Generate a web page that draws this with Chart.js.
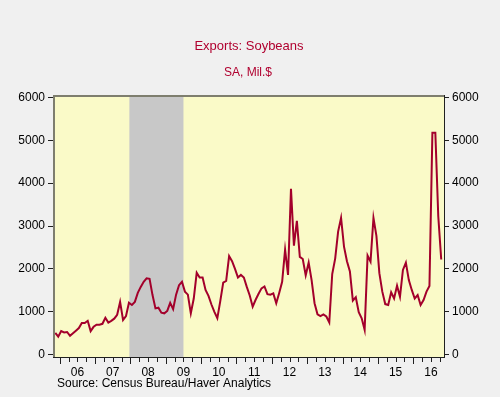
<!DOCTYPE html>
<html>
<head>
<meta charset="utf-8">
<title>Exports: Soybeans</title>
<script src="https://cdn.jsdelivr.net/npm/chart.js@4.4.1/dist/chart.umd.min.js"></script>
<style>
  html, body { margin: 0; padding: 0; background: #f0f0f0; }
  #wrap { width: 500px; height: 397px; }
</style>
</head>
<body>
<div id="wrap"><canvas id="myChart" width="500" height="397"></canvas></div>
<script>
// monthly series, first point = Nov 2005, last point = Oct 2016
const firstYear = 2005;
const firstMonth = 11;

const soybeanExports = [
  510, 420,
  550, 520, 530, 440, 500, 560, 620, 740, 740, 790, 550, 650,
  700, 700, 720, 860, 750, 790, 840, 930, 1230, 810, 900, 1210,
  1160, 1230, 1440, 1580, 1700, 1780, 1770, 1390, 1080, 1095, 980, 965,
  1020, 1210, 1064, 1400, 1620, 1700, 1470, 1400, 965, 1310, 1910, 1800,
  1800, 1510, 1370, 1170, 1000, 850, 1250, 1680, 1720, 2300, 2180, 2000,
  1800, 1860, 1800, 1580, 1380, 1120, 1280, 1420, 1546, 1590, 1410, 1400,
  1430, 1200, 1440, 1700, 2450, 1860, 3870, 2540, 3120, 2280, 2230, 1850,
  2145, 1740, 1200, 940, 900, 940, 890, 750, 1880, 2240, 2870, 3190,
  2520, 2180, 1940, 1260, 1340, 990, 850, 580, 2310, 2170, 3190, 2770,
  1900, 1470, 1180, 1160, 1455, 1310, 1610, 1350, 1975, 2145, 1740, 1510,
  1310, 1390, 1160, 1275, 1470, 1600, 5175, 5175, 3220, 2220
];

const yTicks = [0, 1000, 2000, 3000, 4000, 5000, 6000];
const yearLabels = ['06', '07', '08', '09', '10', '11', '12', '13', '14', '15', '16'];
const recession = [2007.97, 2009.5]; // Dec 2007 - Jun 2009

const redLine = '#a3002b';
const titleRed = '#b0002f';
const font12 = { family: "'Liberation Sans', Arial, sans-serif", size: 12 };

const points = soybeanExports.map((v, i) => ({
  x: firstYear + (firstMonth - 1 + i + 0.5) / 12,
  y: v
}));

// background, recession band, frame, ticks and texts
const haverLook = {
  id: 'haverLook',
  beforeDatasetsDraw(chart) {
    const { ctx, chartArea: a, scales } = chart;
    ctx.save();
    ctx.fillStyle = '#fafac8';
    ctx.fillRect(a.left, a.top, a.right - a.left, a.bottom - a.top);
    const x0 = Math.max(a.left, scales.x.getPixelForValue(recession[0]));
    const x1 = Math.min(a.right, scales.x.getPixelForValue(recession[1]));
    ctx.fillStyle = '#c8c8c8';
    ctx.fillRect(x0, a.top, x1 - x0, a.bottom - a.top);
    ctx.restore();
  },
  afterDraw(chart) {
    const { ctx, chartArea: a, scales } = chart;
    ctx.save();
    // frame
    ctx.fillStyle = '#7e7e6e';
    ctx.fillRect(a.left, a.top, a.right - a.left, 2);
    ctx.fillRect(a.left, a.top, 2, a.bottom - a.top);
    ctx.fillStyle = '#202020';
    ctx.fillRect(a.left, a.bottom - 1, a.right - a.left + 1, 1);
    ctx.fillRect(a.right, a.top, 1, a.bottom - a.top);

    // quarter ticks, longer at year start
    ctx.strokeStyle = '#202020';
    ctx.lineWidth = 1;
    ctx.beginPath();
    for (let q = 2006; q <= 2016.76; q += 0.25) {
      const px = Math.round(scales.x.getPixelForValue(q)) + 0.5;
      const len = Math.abs(q - Math.round(q)) < 0.01 ? 6 : 4;
      ctx.moveTo(px, a.bottom);
      ctx.lineTo(px, a.bottom + len);
    }
    ctx.stroke();

    // texts
    ctx.fillStyle = titleRed;
    ctx.textAlign = 'center';
    ctx.textBaseline = 'middle';
    ctx.font = "13px 'Liberation Sans', Arial, sans-serif";
    ctx.fillText('Exports: Soybeans', 249, 46);
    ctx.font = "12px 'Liberation Sans', Arial, sans-serif";
    ctx.fillText('SA, Mil.$', 248, 73);
    ctx.fillStyle = '#000';
    ctx.textAlign = 'left';
    ctx.fillText('Source: Census Bureau/Haver Analytics', 57, 384);
    ctx.restore();
  }
};

const yAxis = (pos, w) => ({
  type: 'linear',
  position: pos,
  min: -77,
  max: 6054,
  afterBuildTicks: s => { s.ticks = yTicks.map(v => ({ value: v })); },
  afterFit: s => { s.width = w; },
  ticks: { callback: v => String(v), color: '#000', font: font12, padding: 3 },
  grid: { drawOnChartArea: false, tickLength: 5, color: '#202020' },
  border: { display: false }
});

new Chart('myChart', {
  type: 'line',
  data: {
    datasets: [{
      data: points,
      borderColor: redLine,
      borderWidth: 2,
      pointRadius: 0,
      tension: 0,
      yAxisID: 'y'
    }]
  },
  options: {
    responsive: false,
    animation: false,
    layout: { padding: { top: 95, left: 0, right: 0, bottom: 0 } },
    plugins: { legend: { display: false }, tooltip: { enabled: false } },
    scales: {
      x: {
        type: 'linear',
        min: 2005.81,
        max: 2016.87,
        afterBuildTicks: s => { s.ticks = yearLabels.map((l, i) => ({ value: 2006.5 + i })); },
        afterFit: s => { s.height = 39; },
        ticks: {
          callback: (v, i) => yearLabels[i],
          autoSkip: false,
          maxRotation: 0,
          color: '#000',
          font: font12,
          padding: 7
        },
        grid: { display: false, drawTicks: false },
        border: { display: false }
      },
      y: yAxis('left', 53),
      y2: yAxis('right', 56)
    }
  },
  plugins: [haverLook]
});
</script>
</body>
</html>
